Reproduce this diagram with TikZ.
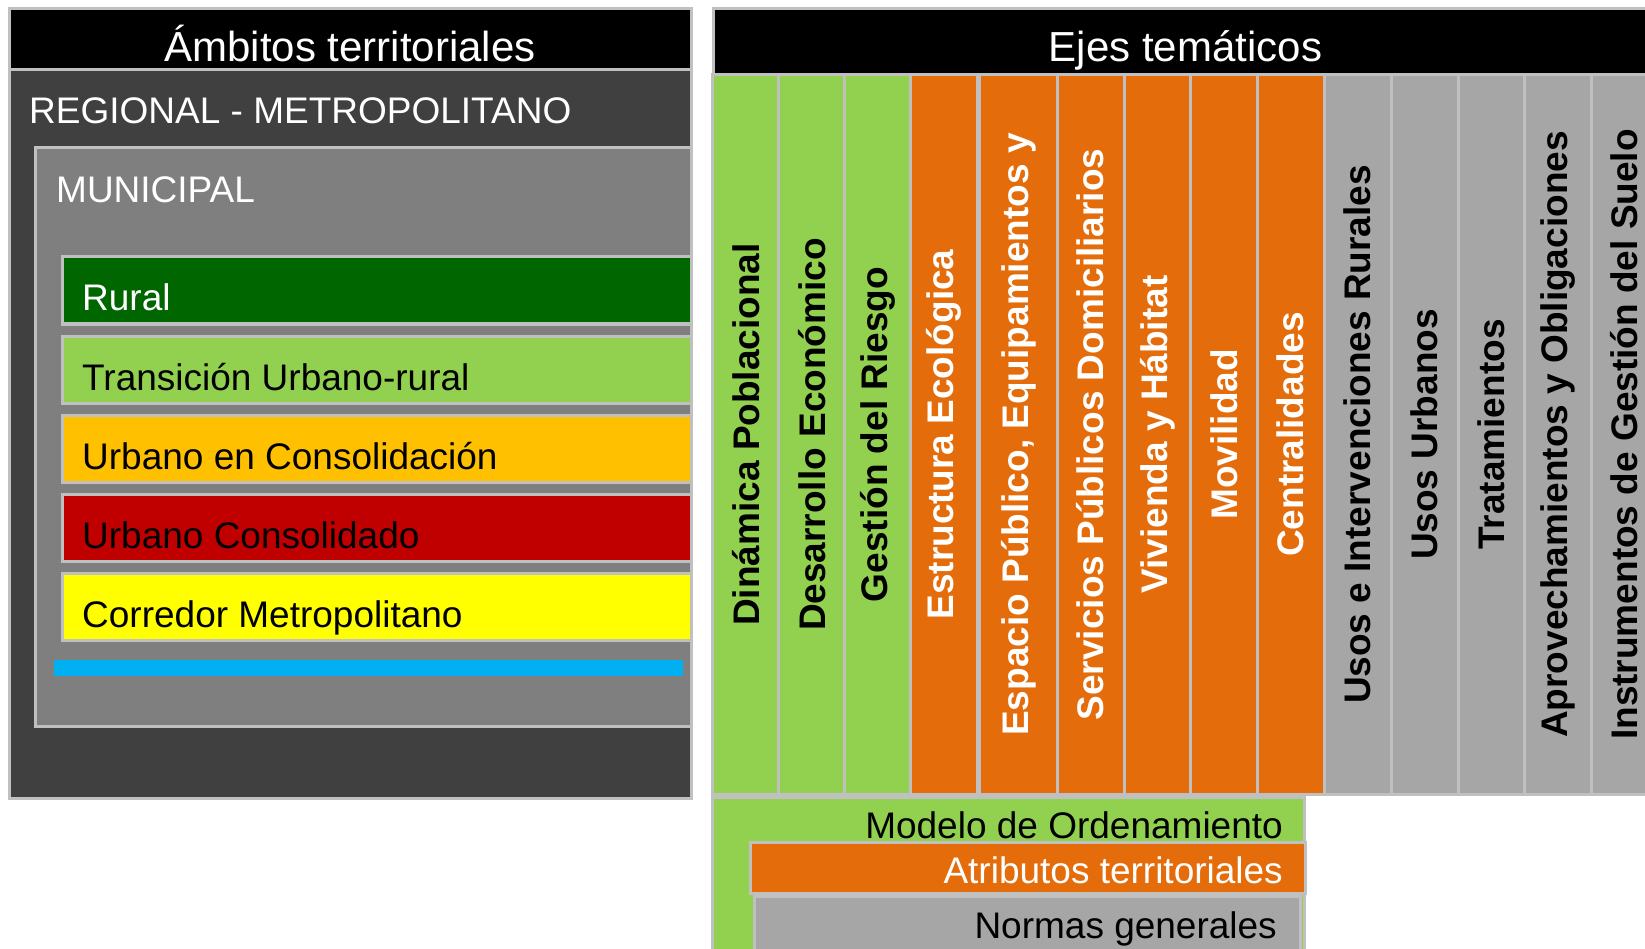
\documentclass[tikz,border=0pt]{standalone}
\usepackage{fontspec}
\setmainfont{Liberation Sans}

\definecolor{verde}{HTML}{92D050}
\definecolor{verdeosc}{HTML}{006600}
\definecolor{naranja}{HTML}{E46C0A}
\definecolor{gris}{HTML}{A6A6A6}
\definecolor{grisosc}{HTML}{404040}
\definecolor{grismed}{HTML}{7F7F7F}
\definecolor{borde}{HTML}{C0C0C0}
\definecolor{ambar}{HTML}{FFC000}
\definecolor{rojo}{HTML}{C00000}
\definecolor{amarillo}{HTML}{FFFF00}
\definecolor{celeste}{HTML}{00B0F0}

\begin{document}
\begin{tikzpicture}[x=1pt, y=-1pt,
  marco/.style={draw=borde, line width=3pt},
  franja/.style={marco, fill=#1},
  titulo/.style={text=white, anchor=base, font=\fontsize{42}{50}\selectfont},
  texto/.style={anchor=base west, inner sep=0pt, font=\fontsize{37}{44}\selectfont},
  tema/.style={marco, fill=#1, rotate=90, minimum width=719, minimum height=67, inner sep=0pt, font=\bfseries\fontsize{37}{44}\selectfont}]

\useasboundingbox (0,0) rectangle (1645,949);
\clip (0,0) rectangle (1645,949);

% Ambitos territoriales
\filldraw[marco, fill=grisosc] (9,9) rectangle (691,798);
\filldraw[marco, fill=black] (9,9) rectangle (691,70);
\node[titulo] (ambitos) at (350,62) {Ámbitos territoriales};
\node[texto, text=white] (regional) at (29,124) {REGIONAL - METROPOLITANO};

\filldraw[marco, fill=grismed] (35,148) rectangle (691,726);
\node[texto, text=white] (municipal) at (56,203) {MUNICIPAL};

% Draw the bands of the municipal scale
\filldraw[franja=verdeosc] (62,257) rectangle (691,324);
\node[texto, text=white] (rural) at (82,311) {Rural};
\filldraw[franja=verde] (62,336) rectangle (691,403);
\node[texto] (transicion) at (82,390) {Transición Urbano-rural};
\filldraw[franja=ambar] (62,415) rectangle (691,482);
\node[texto] (enconsolidacion) at (82,469) {Urbano en Consolidación};
\filldraw[franja=rojo] (62,494) rectangle (691,561);
\node[texto] (consolidado) at (82,548) {Urbano Consolidado};
\filldraw[franja=amarillo] (62,573) rectangle (691,640);
\node[texto] (corredor) at (82,627) {Corredor Metropolitano};
\fill[celeste] (54,660) rectangle (683,676);

% Ejes tematicos
\filldraw[marco, fill=black] (713,9) rectangle (1658,75);
\node[titulo] (ejes) at (1185.5,62) {Ejes temáticos};

\node[tema=verde] (dinamica) at (746,434.5) {Dinámica Poblacional};
\node[tema=verde] (desarrollo) at (812,434.5) {Desarrollo Económico};
\node[tema=verde] (riesgo) at (878,434.5) {Gestión del Riesgo};

\node[tema=naranja, text=white] (estructura) at (944,434.5) {Estructura Ecológica};
\node[tema=naranja, text=white, minimum height=80] (espacio) at (1019,434.5) {Espacio Público, Equipamientos y};
\node[tema=naranja, text=white] (servicios) at (1090.5,434.5) {Servicios Públicos Domiciliarios};
\node[tema=naranja, text=white] (vivienda) at (1157.5,434.5) {Vivienda y Hábitat};
\node[tema=naranja, text=white] (movilidad) at (1224,434.5) {Movilidad};
\node[tema=naranja, text=white] (centralidades) at (1290.5,434.5) {Centralidades};

\node[tema=gris] (rurales) at (1357.5,434.5) {Usos e Intervenciones Rurales};
\node[tema=gris] (urbanos) at (1424.5,434.5) {Usos Urbanos};
\node[tema=gris] (tratamientos) at (1491.5,434.5) {Tratamientos};
\node[tema=gris] (aprovechamientos) at (1558,434.5) {Aprovechamientos y Obligaciones};
\node[tema=gris] (instrumentos) at (1624.5,434.5) {Instrumentos de Gestión del Suelo};

% Modelo de ordenamiento
\filldraw[franja=verde] (712,797) rectangle (1304,960);
\node[texto, anchor=base east] (modelo) at (1283,838) {Modelo de Ordenamiento};
\filldraw[franja=naranja] (750,842) rectangle (1305,893);
\node[texto, anchor=base east, text=white] (atributos) at (1283,883) {Atributos territoriales};
\filldraw[franja=gris] (754,896) rectangle (1300,960);
\node[texto, anchor=base east] (normas) at (1277,938) {Normas generales};

\end{tikzpicture}
\end{document}
